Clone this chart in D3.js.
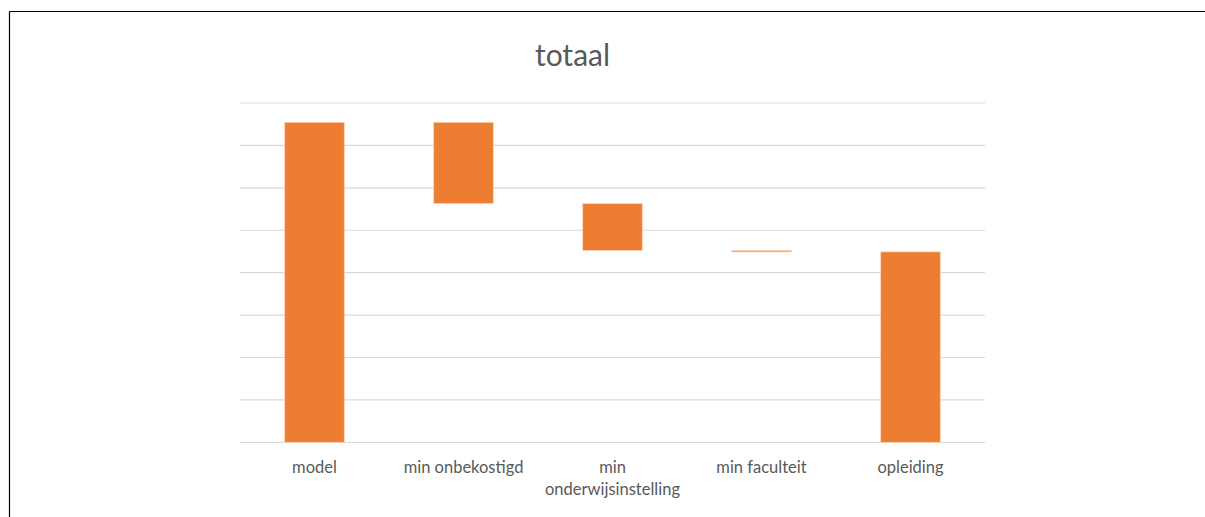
<!DOCTYPE html>
<html>
<head>
<meta charset="utf-8">
<script src="https://cdn.jsdelivr.net/npm/d3@7"></script>
<style>
  html, body { margin: 0; padding: 0; background: #fff; }
  svg { display: block; }
</style>
</head>
<body>
<svg id="chart" width="1205" height="517"></svg>
<script>
// ---- data ----
const categories = ["model", "min onbekostigd", "min onderwijsinstelling", "min faculteit", "opleiding"];
const categoryLines = [["model"], ["min onbekostigd"], ["min", "onderwijsinstelling"], ["min faculteit"], ["opleiding"]];
const values = [75.45, -19.15, -11.05, -0.35, 44.9];
const barTypes = ["total", "delta", "delta", "delta", "total"];
const yTicks = [0, 10, 20, 30, 40, 50, 60, 70, 80];
const title = "totaal";

// ---- layout ----
const W = 1205, H = 517;
const plot = { left: 240, right: 985, top: 103, bottom: 442.3 };
const font = "Lato, 'Liberation Sans', sans-serif";

const svg = d3.select("#chart");

// frame lines (top and left)
svg.append("line").attr("x1", 9.5).attr("x2", W).attr("y1", 11.5).attr("y2", 11.5)
  .attr("stroke", "#000").attr("stroke-width", 1.2);
svg.append("line").attr("x1", 9.5).attr("x2", 9.5).attr("y1", 11.5).attr("y2", H)
  .attr("stroke", "#000").attr("stroke-width", 1.2);

const x = d3.scaleBand().domain(categories).range([plot.left, plot.right])
  .paddingInner(0.6).paddingOuter(0.3);
const y = d3.scaleLinear().domain([0, 80]).range([plot.bottom, plot.top]);

// gridlines
svg.append("g").selectAll("line").data(yTicks).join("line")
  .attr("x1", plot.left).attr("x2", plot.right)
  .attr("y1", d => y(d)).attr("y2", d => y(d))
  .attr("stroke", "#D9D9D9").attr("stroke-width", 1.2);

// waterfall computation
let running = 0;
const bars = categories.map((c, i) => {
  let start, end;
  if (barTypes[i] === "total") { start = 0; end = values[i]; running = values[i]; }
  else { start = running; end = running + values[i]; running = end; }
  return { cat: c, lo: Math.min(start, end), hi: Math.max(start, end) };
});

svg.append("g").selectAll("rect").data(bars).join("rect")
  .attr("x", d => x(d.cat))
  .attr("width", x.bandwidth())
  .attr("y", d => y(d.hi))
  .attr("height", d => Math.max(0.8, y(d.lo) - y(d.hi)))
  .attr("fill", "#ED7D31")
  .attr("stroke", "#FBD3B7").attr("stroke-width", 0.8);

// x axis labels
const xAxis = d3.axisBottom(x).tickSize(0).tickPadding(0).tickFormat(() => "");
const gx = svg.append("g").attr("transform", `translate(0,${plot.bottom})`).call(xAxis);
gx.select(".domain").remove();
gx.selectAll(".tick").each(function(d, i) {
  const t = d3.select(this).select("text")
    .attr("y", 0).attr("dy", null)
    .attr("fill", "#595959")
    .style("font-family", font).style("font-size", "16.5px");
  t.selectAll("tspan").data(categoryLines[i]).join("tspan")
    .attr("x", 0).attr("y", (l, j) => 31 + j * 22)
    .text(l => l);
});

// title
svg.append("text").attr("x", 572.5).attr("y", 66)
  .attr("text-anchor", "middle")
  .attr("fill", "#595959")
  .style("font-family", font).style("font-size", "30px")
  .text(title);
</script>
</body>
</html>
